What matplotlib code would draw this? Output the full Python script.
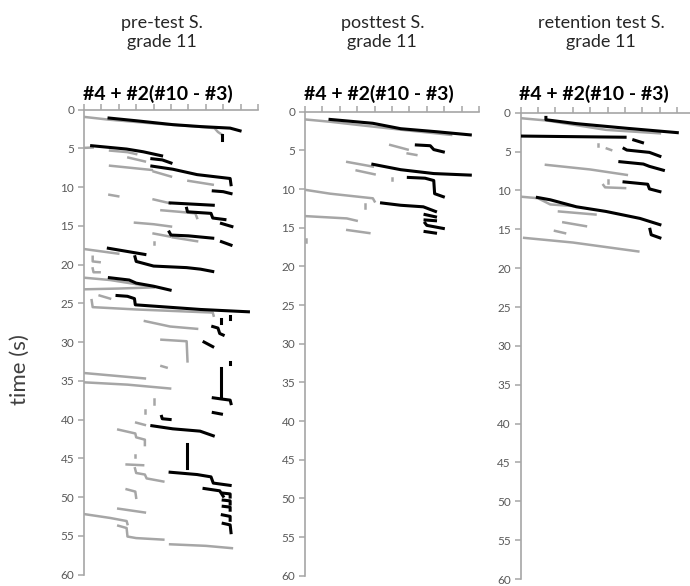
import matplotlib.pyplot as plt

plt.rcParams['font.family'] = ['Lato', 'DejaVu Sans']

panel_titles = ['pre-test S.\ngrade 11', 'posttest S.\ngrade 11', 'retention test S.\ngrade 11']
formula = '#4 + #2(#10 - #3)'
y_ticks = list(range(0, 61, 5))
x_ticks = list(range(0, 11))

# segments as (position, time) pairs
pre_gray = [
    [(0, 0.95), (1.4, 1.3), (4.0, 1.8), (6.5, 2.2), (7.5, 2.4), (7.7, 2.9), (7.9, 3.2)],
    [(0, 4.95), (0.5, 4.9)],
    [(1.5, 5.3), (2.5, 5.5), (3.0, 5.75)],
    [(2.55, 6.2), (3.5, 6.7)],
    [(1.5, 7.25), (3.9, 7.8)],
    [(4.0, 8.0), (5.0, 8.65)],
    [(6.0, 9.2), (7.4, 9.7)],
    [(1.46, 11.0), (1.97, 11.2)],
    [(4.0, 11.6), (4.95, 12.1)],
    [(4.45, 13.0), (5.5, 13.2), (6.4, 13.4), (6.5, 14.0)],
    [(2.93, 14.6), (4.0, 14.8), (5.0, 15.1)],
    [(4.0, 16.0), (4.95, 16.4)],
    [(5.1, 16.5), (6.5, 17.0)],
    [(4.0, 17.1), (4.0, 17.4)],
    [(0, 18.0), (1.97, 18.6)],
    [(0.5, 19.0), (0.5, 19.6), (0.9, 19.7)],
    [(0.5, 20.5), (0.55, 21.0), (0.9, 21.0)],
    [(0, 21.7), (1.5, 22.0), (4.0, 22.9)],
    [(0, 23.2), (2.0, 23.1), (4.0, 22.95)],
    [(0.9, 24.0), (1.5, 24.4)],
    [(0.44, 24.6), (0.5, 25.5), (3.0, 25.8), (7.4, 26.2), (7.45, 26.6)],
    [(3.5, 27.3), (4.95, 28.0), (6.5, 28.3)],
    [(4.45, 29.7), (5.9, 29.9), (5.95, 32.5)],
    [(4.45, 33.1), (4.75, 33.3)],
    [(0, 34.0), (3.5, 34.7)],
    [(0, 35.2), (2.5, 35.5), (4.95, 36.0)],
    [(4.0, 37.4), (4.0, 38.0)],
    [(3.5, 38.8), (3.5, 39.1)],
    [(3.0, 40.4), (3.5, 40.7)],
    [(1.97, 41.3), (2.95, 41.8), (3.0, 42.3), (3.5, 42.6), (3.5, 43.3)],
    [(2.95, 44.6), (2.95, 44.9)],
    [(2.45, 45.8), (3.4, 45.9)],
    [(2.93, 46.3), (3.0, 46.9), (3.5, 47.1), (3.6, 47.6), (4.56, 48.0)],
    [(2.45, 49.0), (2.95, 49.3), (3.0, 50.1)],
    [(1.97, 51.5), (3.5, 52.0)],
    [(0, 52.2), (1.5, 52.7), (2.45, 53.1), (2.5, 53.5)],
    [(1.97, 53.7), (2.45, 54.0), (2.5, 55.1), (3.0, 55.3), (4.56, 55.5)],
    [(4.95, 56.1), (7.0, 56.3), (8.5, 56.6)],
]
pre_black = [
    [(1.44, 1.1), (3.0, 1.45), (5.1, 1.95), (6.7, 2.2), (8.4, 2.4), (8.97, 2.75)],
    [(7.95, 3.3), (7.95, 3.95)],
    [(0.44, 4.67), (2.45, 5.1), (3.4, 5.45), (4.46, 5.97)],
    [(3.9, 6.35), (4.5, 6.5), (5.0, 6.9)],
    [(3.9, 7.3), (5.1, 7.7), (6.5, 8.4), (8.4, 8.9), (8.45, 9.7)],
    [(7.43, 10.5), (8.0, 10.6), (8.45, 10.85)],
    [(4.95, 12.05), (7.43, 12.35)],
    [(5.9, 12.75), (5.95, 13.2), (7.3, 13.4), (7.4, 14.0), (8.1, 14.2)],
    [(7.9, 14.7), (8.5, 15.1)],
    [(4.9, 15.8), (5.0, 16.2), (6.0, 16.3), (7.4, 16.6)],
    [(7.9, 17.05), (8.45, 17.5)],
    [(1.4, 17.9), (3.5, 18.7)],
    [(2.93, 19.0), (3.0, 19.6), (4.0, 20.2), (5.9, 20.4), (6.7, 20.6), (7.4, 20.9)],
    [(1.46, 21.7), (2.6, 22.0), (3.0, 22.4), (4.0, 22.8), (4.95, 23.3)],
    [(1.9, 24.0), (2.5, 24.1), (2.9, 24.4), (2.95, 25.2), (6.7, 25.8), (9.45, 26.1)],
    [(8.4, 26.6), (8.4, 27.0)],
    [(7.9, 27.0), (7.9, 27.6)],
    [(7.4, 28.0), (7.7, 28.2), (7.8, 28.9), (8.0, 29.1)],
    [(6.9, 30.0), (7.4, 30.6)],
    [(8.4, 32.6), (8.4, 32.9)],
    [(7.9, 33.4), (7.9, 37.0)],
    [(7.43, 37.2), (7.9, 37.35), (8.4, 37.5), (8.45, 37.95)],
    [(7.43, 39.1), (7.9, 39.3)],
    [(4.46, 39.6), (4.5, 39.9), (4.95, 40.0)],
    [(3.9, 40.8), (5.1, 41.2), (6.67, 41.5), (7.43, 42.1)],
    [(5.94, 43.1), (5.94, 46.2)],
    [(4.95, 46.8), (6.5, 47.1), (7.3, 47.4), (7.43, 48.2), (8.4, 48.5)],
    [(6.9, 48.9), (7.8, 49.2), (8.0, 49.9)],
    [(8.0, 49.5), (8.4, 49.6), (8.4, 50.0)],
    [(8.0, 50.4), (8.4, 50.5), (8.4, 50.9)],
    [(8.0, 51.2), (8.4, 51.3), (8.4, 51.7)],
    [(7.95, 52.3), (8.4, 52.5), (8.4, 53.0)],
    [(8.0, 53.4), (8.4, 53.6), (8.45, 54.6)],
]

post_gray = [
    [(0, 1.0), (1.44, 1.3), (3.0, 1.7), (5.8, 2.4), (8.4, 3.0)],
    [(4.9, 4.3), (5.9, 4.9)],
    [(5.9, 5.4), (6.4, 5.6)],
    [(2.43, 6.5), (3.9, 7.1)],
    [(2.97, 7.6), (4.0, 8.1)],
    [(5.0, 8.6), (5.0, 8.8)],
    [(0, 10.1), (1.44, 10.6), (3.9, 11.2), (4.0, 11.6)],
    [(3.45, 11.9), (3.45, 12.5)],
    [(0, 13.5), (2.4, 13.8), (2.97, 14.1)],
    [(2.43, 15.3), (3.7, 15.7)],
    [(0.05, 16.5), (0.05, 16.9)],
]
post_black = [
    [(1.44, 1.0), (3.9, 1.5), (5.5, 2.2), (7.6, 2.6), (9.5, 3.0)],
    [(6.4, 4.3), (7.2, 4.4), (7.4, 4.9), (7.95, 5.2)],
    [(3.9, 6.8), (5.5, 7.5), (7.4, 8.0), (9.5, 8.2)],
    [(5.94, 8.5), (6.9, 8.6), (7.4, 8.9), (7.45, 10.6), (7.95, 11.0)],
    [(4.4, 11.8), (5.5, 12.1), (6.8, 12.3), (7.5, 12.9)],
    [(6.9, 13.3), (7.5, 13.6)],
    [(6.9, 14.0), (7.5, 14.1)],
    [(6.9, 14.4), (7.0, 14.7), (7.95, 15.1)],
    [(6.9, 15.5), (7.5, 15.7)],
]

ret_gray = [
    [(0, 0.7), (1.5, 1.0), (4.9, 2.2), (8.0, 2.65)],
    [(4.46, 4.0), (4.46, 4.3)],
    [(4.95, 4.6), (5.2, 4.8)],
    [(1.45, 6.7), (4.0, 7.3), (6.1, 8.0)],
    [(5.0, 8.7), (5.0, 9.0)],
    [(4.75, 9.3), (4.85, 9.6), (6.0, 9.7)],
    [(0, 10.8), (1.0, 11.0), (1.7, 11.8), (3.0, 12.0)],
    [(2.2, 12.7), (4.3, 13.1)],
    [(2.45, 14.1), (3.75, 14.6)],
    [(1.97, 15.2), (2.55, 15.5)],
    [(0.2, 16.1), (3.0, 16.7), (6.76, 17.85)],
]
ret_black = [
    [(1.45, 0.6), (1.45, 0.9), (3.2, 1.4), (6.1, 2.0), (9.0, 2.56)],
    [(0, 3.0), (6.0, 3.15)],
    [(6.5, 3.5), (7.0, 3.85)],
    [(5.94, 4.6), (6.1, 4.8), (7.4, 5.1), (8.0, 5.6)],
    [(5.7, 6.3), (7.05, 6.6), (7.4, 6.9), (8.2, 7.4)],
    [(5.94, 8.9), (7.3, 9.2), (7.4, 9.8), (8.0, 10.15)],
    [(0.96, 10.9), (1.7, 11.2), (3.2, 12.1), (4.9, 12.7), (6.86, 13.6), (8.0, 14.4)],
    [(7.43, 15.0), (7.5, 15.7), (8.0, 16.1)],
]

gray_sets = [pre_gray, post_gray, ret_gray]
black_sets = [pre_black, post_black, ret_black]

fig = plt.figure(figsize=(6.9, 5.86), dpi=100)

boxes = [
    [0.1217, 0.0196, 0.2522, 0.7935],
    [0.4420, 0.0176, 0.2522, 0.7918],
    [0.7546, 0.0119, 0.2522, 0.7957],
]
title_x = [0.234, 0.554, 0.871]
axis_grey = '#a6a6a6'

for i in range(3):
    ax = fig.add_axes(boxes[i])
    for seg in gray_sets[i]:
        xs = [p[0] for p in seg]
        ts = [p[1] for p in seg]
        ax.plot(xs, ts, color='#a6a6a6', lw=1.8, zorder=2)
    for seg in black_sets[i]:
        xs = [p[0] for p in seg]
        ts = [p[1] for p in seg]
        ax.plot(xs, ts, color='black', lw=2.2, zorder=3)

    ax.set_xlim(0, 10)
    ax.set_ylim(60, 0)
    ax.xaxis.tick_top()
    ax.set_xticks(x_ticks)
    ax.set_xticklabels([])
    ax.set_yticks(y_ticks)
    ax.tick_params(axis='both', direction='out', length=4, width=1.1,
                   color=axis_grey, labelcolor='#595959', labelsize=8.5, pad=3)
    for side in ['bottom', 'right']:
        ax.spines[side].set_visible(False)
    for side in ['top', 'left']:
        ax.spines[side].set_color(axis_grey)
        ax.spines[side].set_linewidth(1.2)
    ax.patch.set_visible(False)

    fig.text(title_x[i], 0.945, panel_titles[i], ha='center', va='center',
             fontsize=13, color='#262626', linespacing=1.25)
    fig.text(boxes[i][0] - 0.002, 0.840, formula, ha='left', va='center',
             fontsize=14, fontweight='bold', color='black')

fig.text(0.029, 0.37, 'time (s)', rotation=90, ha='center', va='center',
         fontsize=16, color='#404040')

fig.savefig('out.png', dpi=100)
